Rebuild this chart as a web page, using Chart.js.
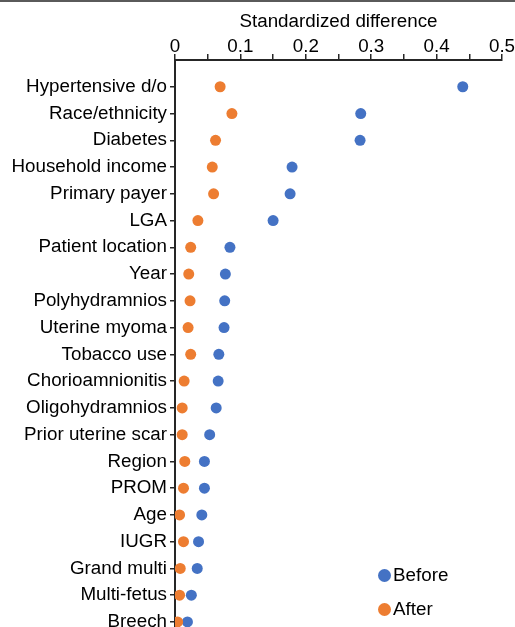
<!DOCTYPE html>
<html>
<head>
  <meta charset="UTF-8">
  <title>Standardized difference</title>
  <script src="https://cdn.jsdelivr.net/npm/chart.js@4.4.1/dist/chart.umd.min.js"></script>
  <style>
    body {
      margin: 0;
      padding: 0;
      background: #fff;
      font-family: "Liberation Sans", Arial, sans-serif;
    }

    #wrap {
      position: relative;
      width: 515px;
      height: 627px;
      overflow: hidden;
      border-top: 2px solid #5a5a5a;
      box-sizing: border-box;
    }

    #box {
      position: absolute;
      left: 0;
      top: -2px;
      width: 515px;
      height: 663px;
    }

    .legend {
      position: absolute;
      left: 378px;
      font-size: 18.8px;
      color: #000;
      line-height: 20px;
      height: 20px;
    }

    .legend span {
      display: inline-block;
      width: 13px;
      height: 13px;
      border-radius: 50%;
      margin-right: 2px;
      vertical-align: -1px;
    }
  </style>
</head>
<body>
  <div id="wrap">
    <div id="box"><canvas id="myChart"></canvas></div>
    <div id="legend"></div>
  </div>

  <script>
    // covariates, top to bottom
    const categories = [
      'Hypertensive d/o', 'Race/ethnicity', 'Diabetes', 'Household income',
      'Primary payer', 'LGA', 'Patient location', 'Year', 'Polyhydramnios',
      'Uterine myoma', 'Tobacco use', 'Chorioamnionitis', 'Oligohydramnios',
      'Prior uterine scar', 'Region', 'PROM', 'Age', 'IUGR', 'Grand multi',
      'Multi-fetus', 'Breech'
    ];

    const before = [
      0.440, 0.284, 0.283, 0.179, 0.176, 0.150, 0.084, 0.077, 0.076,
      0.075, 0.067, 0.066, 0.063, 0.053, 0.045, 0.045, 0.041, 0.036,
      0.034, 0.025, 0.019
    ];

    const after = [
      0.069, 0.087, 0.062, 0.057, 0.059, 0.035, 0.024, 0.021, 0.023,
      0.020, 0.024, 0.014, 0.011, 0.011, 0.015, 0.013, 0.007, 0.013,
      0.008, 0.007, 0.004
    ];

    const seriesNames = ['Before', 'After'];
    const seriesColors = ['#4472C4', '#ED7D31'];

    const font = { family: '"Liberation Sans", Arial, sans-serif', size: 18.8 };
    const axisColor = '#262626';

    function toPoints(values) {
      return values.map((v, i) => ({ x: v, y: i + 1 }));
    }

    const chartData = {
      datasets: [{
        label: seriesNames[0],
        data: toPoints(before),
        backgroundColor: seriesColors[0],
        borderWidth: 0,
        pointRadius: 5.5,
        pointHoverRadius: 5.5,
        order: 1
      }, {
        label: seriesNames[1],
        data: toPoints(after),
        backgroundColor: seriesColors[1],
        borderWidth: 0,
        pointRadius: 5.5,
        pointHoverRadius: 5.5,
        order: 0
      }]
    };

    const config = {
      type: 'scatter',
      data: chartData,
      options: {
        responsive: true,
        maintainAspectRatio: false,
        animation: false,
        layout: { padding: { left: 0, right: 13, top: 0, bottom: 3 } },
        plugins: {
          legend: { display: false },
          tooltip: { enabled: false }
        },
        scales: {
          x: {
            type: 'linear',
            position: 'top',
            min: 0,
            max: 0.5,
            afterFit: (scale) => { scale.height = 60; },
            title: {
              display: true,
              text: 'Standardized difference',
              color: '#000',
              font: font,
              padding: { top: 11, bottom: 0 }
            },
            border: { display: true, color: axisColor, width: 2 },
            grid: {
              drawOnChartArea: false,
              color: axisColor,
              lineWidth: 1.5,
              tickLength: 6
            },
            ticks: {
              stepSize: 0.05,
              color: '#000',
              font: font,
              padding: -4,
              maxRotation: 0,
              autoSkip: false,
              callback: (v) => {
                const k = Math.round(v * 100);
                if (k % 10 !== 0) return '';
                return k === 0 ? '0' : String(k / 100);
              }
            }
          },
          y: {
            type: 'linear',
            reverse: true,
            min: 0,
            max: categories.length + 1,
            afterFit: (scale) => { scale.width = 175; },
            border: { display: true, color: axisColor, width: 2 },
            grid: {
              drawOnChartArea: false,
              color: axisColor,
              lineWidth: 1.5,
              tickLength: 5
            },
            ticks: {
              stepSize: 1,
              color: '#000',
              font: font,
              padding: 3,
              autoSkip: false,
              callback: (v) => categories[v - 1] === undefined ? null : categories[v - 1]
            }
          }
        }
      }
    };

    new Chart(document.getElementById('myChart'), config);

    // legend in the lower right corner
    const legend = document.getElementById('legend');
    seriesNames.forEach((name, i) => {
      const item = document.createElement('div');
      item.className = 'legend';
      item.style.top = (563 + i * 34) + 'px';
      item.innerHTML = '<span style="background:' + seriesColors[i] + '"></span>' + name;
      legend.appendChild(item);
    });
  </script>
</body>
</html>
